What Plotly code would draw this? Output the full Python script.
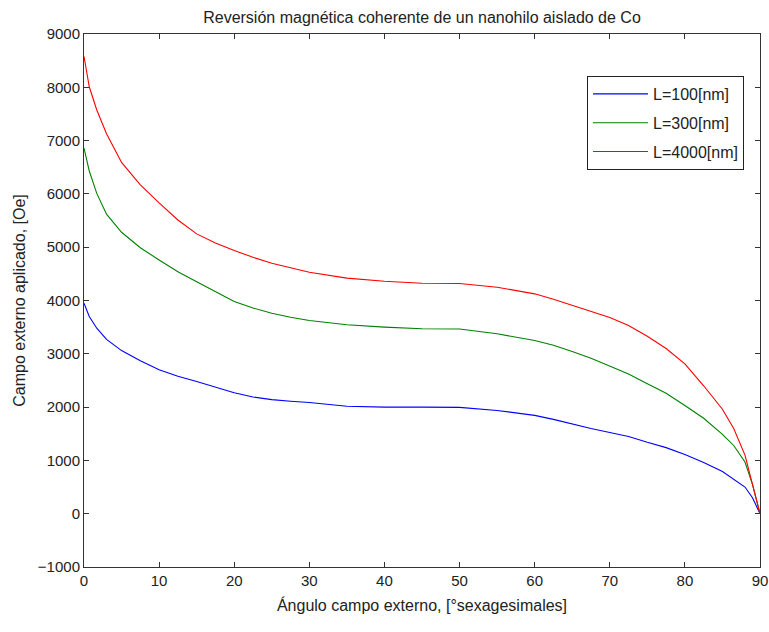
import plotly.graph_objects as go

# Angle of external field [degrees]
angles = [0, 0.7, 1.7, 3, 5, 7.5, 10, 12.5, 15, 17.5, 20, 22.5, 25, 27.5, 30, 35, 40, 45, 50, 55, 60,
          62.5, 65, 67.5, 70, 72.5, 75, 77.5, 80, 82.5, 85, 86.5, 88, 89, 90]

# Applied external field [Oe]
h_L100 = [3950, 3700, 3480, 3270, 3060, 2870, 2700, 2580, 2480, 2370, 2270, 2190, 2140, 2110, 2085, 2015,
          2000, 2000, 1995, 1937, 1845, 1770, 1680, 1600, 1525, 1450, 1340, 1240, 1110, 960, 790, 640,
          500, 300, 0]
h_L300 = [6860, 6430, 6010, 5620, 5280, 4990, 4760, 4540, 4350, 4170, 3980, 3860, 3760, 3685, 3625, 3545,
          3500, 3470, 3465, 3375, 3250, 3160, 3045, 2915, 2770, 2620, 2440, 2260, 2030, 1790, 1490, 1280,
          970, 550, 0]
h_L4000 = [8580, 8010, 7575, 7130, 6590, 6170, 5830, 5510, 5250, 5080, 4940, 4810, 4700, 4610, 4530, 4420,
           4360, 4325, 4320, 4250, 4125, 4025, 3910, 3800, 3680, 3530, 3330, 3100, 2810, 2400, 1960, 1600,
           1100, 550, 0]

series_names = ["L=100[nm]", "L=300[nm]", "L=4000[nm]"]
series_values = [h_L100, h_L300, h_L4000]
series_colors = ["#0000FF", "#008000", "#FF0000"]

x_ticks = list(range(0, 91, 10))
y_ticks = list(range(-1000, 9001, 1000))

FONT = "Liberation Sans, Arial, sans-serif"
TXT = "#222222"

fig = go.Figure()
for i, (name, vals, col) in enumerate(zip(series_names, series_values, series_colors)):
    fig.add_trace(go.Scatter(
        x=angles, y=vals, mode="lines", name=name,
        line=dict(color=col, width=1.1),
        legendgroup=f"g{i}",
    ))

axis_common = dict(
    showgrid=False, zeroline=False,
    showline=True, linecolor="#333333", linewidth=1,
    mirror="allticks", ticks="inside", ticklen=5, tickcolor="#333333", tickwidth=1,
    tickfont=dict(family=FONT, size=15, color=TXT),
    ticklabeloverflow="allow",
    automargin=False,
)

L, R, T, B = 84, 9, 34, 65
W, H = 769, 632
plot_w = W - L - R
plot_h = H - T - B

fig.update_layout(
    width=W, height=H,
    margin=dict(l=L, r=R, t=T, b=B, autoexpand=False),
    paper_bgcolor="white", plot_bgcolor="white",
    font=dict(family=FONT, size=16, color=TXT),
    title=dict(
        text="Reversión magnética coherente de un nanohilo aislado de Co",
        x=(L + plot_w / 2) / W, xanchor="center",
        y=1 - 17 / H, yanchor="middle", yref="container",
        font=dict(family=FONT, size=16, color=TXT),
    ),
    xaxis=dict(
        range=[0, 90], tickvals=x_ticks,
        title=dict(text="Ángulo campo externo, [°sexagesimales]", standoff=11,
                   font=dict(family=FONT, size=16, color=TXT)),
        **axis_common,
    ),
    yaxis=dict(
        range=[-1000, 9000], tickvals=y_ticks,
        title=dict(text="Campo externo aplicado, [Oe]", standoff=8,
                   font=dict(family=FONT, size=16, color=TXT)),
        **axis_common,
    ),
    legend=dict(
        x=(587 - L) / plot_w, xanchor="left",
        y=(H - B - 76) / plot_h, yanchor="top",
        bgcolor="white", bordercolor="#222222", borderwidth=1,
        font=dict(family=FONT, size=16, color=TXT),
        tracegroupgap=5,
        traceorder="grouped",
        itemwidth=55,
        entrywidth=110,
    ),
    showlegend=True,
)

fig.write_html("out.html")
